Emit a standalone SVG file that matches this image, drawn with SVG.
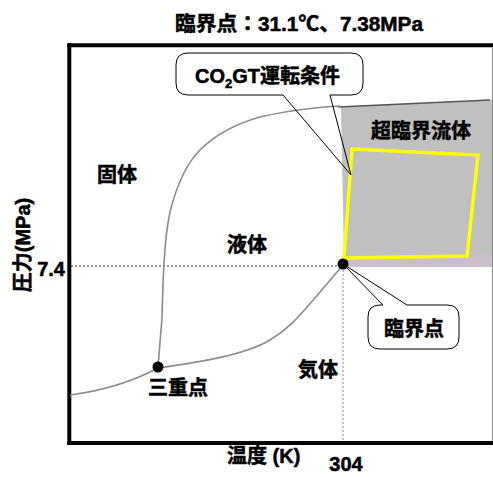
<svg xmlns="http://www.w3.org/2000/svg" width="493" height="477" viewBox="0 0 493 477">
<style>
text{font-family:'Liberation Sans','Noto Sans CJK JP',sans-serif;font-weight:bold;fill:#000;stroke:#000;stroke-width:0.5;font-size:20px}
.curve{fill:none;stroke:#8c8c8c;stroke-width:1.6}
.callout{fill:none;stroke:#000;stroke-width:1}
.dot{fill:#000}
</style>
<rect width="493" height="477" fill="#fff"/>
<g id="supercritical-region">
<polygon points="341,107 490,100 492,100 492,256 344,258" fill="#c0c0c0"/>
<polygon points="344,258 492,255 492,267 344,267" fill="#cabdcc"/>
<polyline points="338,107 490,100" fill="none" stroke="#555" stroke-width="1.4"/>
<polygon points="352,149 478,155 467,256 344,258" fill="none" stroke="#ffff00" stroke-width="3.4"/>
<text x="421" y="138" text-anchor="middle">超臨界流体</text>
</g>
<g id="frame">
<line x1="69.3" y1="43.3" x2="69.3" y2="445" stroke="#000" stroke-width="4"/>
<line x1="67.3" y1="45.3" x2="493" y2="45.3" stroke="#000" stroke-width="4"/>
<line x1="67.3" y1="443" x2="493" y2="443" stroke="#000" stroke-width="4"/>
<line x1="492.5" y1="47" x2="492.5" y2="441" stroke="#888" stroke-width="1"/>
</g>
<g id="connectors">
<line x1="71" y1="266" x2="338" y2="266" stroke="#333" stroke-width="1" stroke-dasharray="2,2"/>
<line x1="343" y1="270" x2="343" y2="441" stroke="#888" stroke-width="1" stroke-dasharray="2,2"/>
<path class="curve" d="M158,367 L162,318 C163,280 164,240 170,212 C176,188 185,165 200,150 C215,135 235,124 260,117 C285,111 310,108 340,106"/>
<path class="curve" d="M158,368 C200,362 245,355 270,340 C290,328 300,315 315,298 L343,265"/>
<path class="curve" d="M70,395 C100,391 130,383 158,368"/>
</g>
<g id="critical-point">
<circle class="dot" cx="343" cy="264" r="5.5"/>
</g>
<g id="triple-point">
<circle class="dot" cx="158" cy="367" r="5.5"/>
<text x="178" y="395" text-anchor="middle">三重点</text>
</g>
<g id="callout-co2gt">
<path class="callout" d="M188,53 H351 Q363,53 363,65 V83 Q363,95 351,95 H330 L351,175 L283,95 H188 Q176,95 176,83 V65 Q176,53 188,53 Z"/>
<text x="195" y="83">CO<tspan font-size="13" dy="5">2</tspan><tspan dy="-5">GT運転条件</tspan></text>
</g>
<g id="callout-critical">
<path class="callout" d="M380,305 H383 L343,264 L407,305 H447 Q459,305 459,317 V337 Q459,349 447,349 H380 Q368,349 368,337 V317 Q368,305 380,305 Z"/>
<text x="414" y="336" text-anchor="middle">臨界点</text>
</g>
<g id="labels">
<text x="175" y="31" textLength="248" lengthAdjust="spacingAndGlyphs">臨界点：31.1℃、7.38MPa</text>
<text x="117" y="182" text-anchor="middle">固体</text>
<text x="247" y="252" text-anchor="middle">液体</text>
<text x="318" y="377" text-anchor="middle">気体</text>
<text x="227" y="463">温度 (K)</text>
<text x="346" y="471" text-anchor="middle">304</text>
<text x="65" y="276" text-anchor="end">7.4</text>
<text transform="translate(30,245) rotate(-90)" text-anchor="middle">圧力(MPa)</text>
</g>
</svg>
